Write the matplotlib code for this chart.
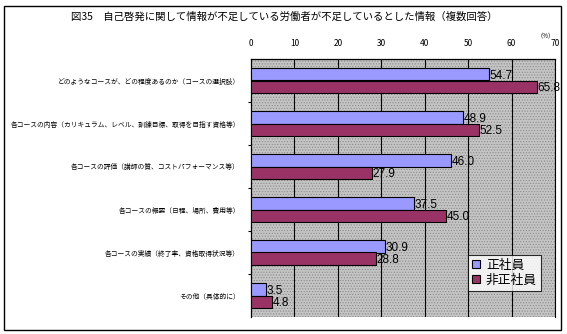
import matplotlib.pyplot as plt
from matplotlib.patches import Rectangle

plt.rcParams['font.family'] = ['Noto Sans CJK JP', 'DejaVu Sans']
plt.rcParams['hatch.linewidth'] = 0.5

# survey items, top to bottom
categories = [
    "どのようなコースが、どの程度あるのか（コースの選択肢）",
    "各コースの内容（カリキュラム、レベル、訓練目標、取得を目指す資格等）",
    "各コースの評価（講師の質、コストパフォーマンス等）",
    "各コースの概要（日程、場所、費用等）",
    "各コースの実績（終了率、資格取得状況等）",
    "その他（具体的に）",
]
regular = [54.7, 48.9, 46.0, 37.5, 30.9, 3.5]
non_regular = [65.8, 52.5, 27.9, 45.0, 28.8, 4.8]
series_names = ["正社員", "非正社員"]
x_ticks = [0, 10, 20, 30, 40, 50, 60, 70]

fig = plt.figure(figsize=(5.67, 3.34), dpi=100)

# outer frame of the chart
fig.patches.append(Rectangle((4 / 567, 4 / 334), 557 / 567, 324 / 334,
                             transform=fig.transFigure, fill=False,
                             edgecolor='black', linewidth=1.0))

ax = fig.add_axes([251 / 567, 1 - 317 / 334, 304 / 567, 258 / 334])

# stippled gray plot area
ax.add_patch(Rectangle((0, 0), 1, 1, transform=ax.transAxes,
                       facecolor='#c4c4c4', edgecolor='#8a8a8a',
                       hatch='......', linewidth=0, zorder=0))

bar_h = 0.29
ypos = list(range(len(categories)))
b1 = ax.barh([y - bar_h / 2 for y in ypos], regular, height=bar_h,
             color='#9999ff', edgecolor='black', linewidth=0.8, zorder=3,
             label=series_names[0])
b2 = ax.barh([y + bar_h / 2 for y in ypos], non_regular, height=bar_h,
             color='#993366', edgecolor='black', linewidth=0.8, zorder=3,
             label=series_names[1])

for bars, vals in [(b1, regular), (b2, non_regular)]:
    for rect, v in zip(bars, vals):
        ax.annotate(f"{v:.1f}", (v, rect.get_y() + rect.get_height() / 2),
                    xytext=(0.5, -1), textcoords='offset points',
                    ha='left', va='center', fontsize=8.5,
                    family=['Liberation Sans Narrow', 'Liberation Sans'],
                    zorder=4)

for x in x_ticks[1:]:
    ax.axvline(x, color='black', linewidth=0.8, zorder=1)

ax.set_xlim(0, 70)
ax.set_ylim(len(categories) - 0.5, -0.5)
ax.set_xticks(x_ticks)
ax.xaxis.tick_top()
ax.tick_params(axis='x', length=0, pad=8, labelsize=6)
ax.set_yticks(ypos)
ax.set_yticklabels(categories, fontsize=4.85)
ax.tick_params(axis='y', length=0, pad=8)
ax.set_yticks([y + 0.5 for y in ypos[:-1]], minor=True)
ax.tick_params(axis='y', which='minor', length=2, width=0.8)

for side in ['top', 'left']:
    ax.spines[side].set_linewidth(0.9)
ax.spines['right'].set_linewidth(0.8)
ax.spines['bottom'].set_visible(False)

leg = ax.legend(loc='upper left', bbox_to_anchor=(217 / 304, 1 - 196 / 258),
                fontsize=9.2, frameon=True, fancybox=False, handlelength=0.6,
                handleheight=0.6, handletextpad=0.5, borderpad=0.3,
                labelspacing=0.15, borderaxespad=0)
leg.get_frame().set_edgecolor('black')
leg.get_frame().set_linewidth(0.8)
leg.set_zorder(5)

fig.text(284 / 567, 1 - 17 / 334,
         "図35　自己啓発に関して情報が不足している労働者が不足しているとした情報（複数回答）",
         ha='center', va='center', fontsize=7.5)
fig.text(546 / 567, 1 - 35 / 334, "（%）", ha='center', va='center', fontsize=4.5)

fig.savefig("out.png", dpi=100)
